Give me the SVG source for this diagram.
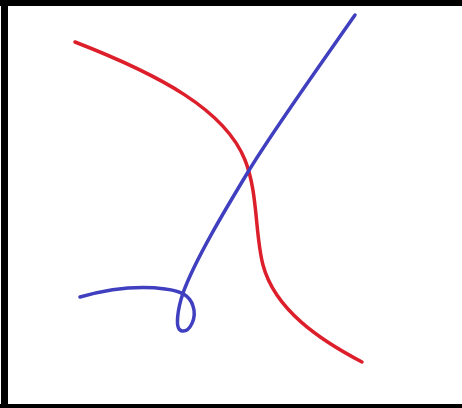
<svg xmlns="http://www.w3.org/2000/svg" width="462" height="408" viewBox="0 0 462 408">
<style>
.frame{fill:#000}
.curve{fill:none;stroke-width:3.5;stroke-linecap:round;stroke-linejoin:round}
.red{stroke:#dc1f2a}
.blue{stroke:#3f3fbf}
</style>
<rect x="0" y="0" width="462" height="408" fill="#fff"/>
<g id="frame">
<rect class="frame" x="0" y="0" width="462" height="6"/>
<rect class="frame" x="1" y="0" width="7" height="408"/>
<rect class="frame" x="0" y="404" width="462" height="4"/>
</g>
<g id="red-curve">
<path class="curve red" d="M75,42 C160,75 225,110 245,160 C258,192 255,235 263,265 C275,310 320,340 362,362"/>
</g>
<g id="blue-curve">
<path class="curve blue" d="M355,15 C320,65 270,135 248,172 C225,210 195,260 183,293 C178,308 174,330 182,331 C190,332 197,318 193,306 C190,296 182,291 165,289 C135,285 105,290 80,297"/>
</g>
</svg>
